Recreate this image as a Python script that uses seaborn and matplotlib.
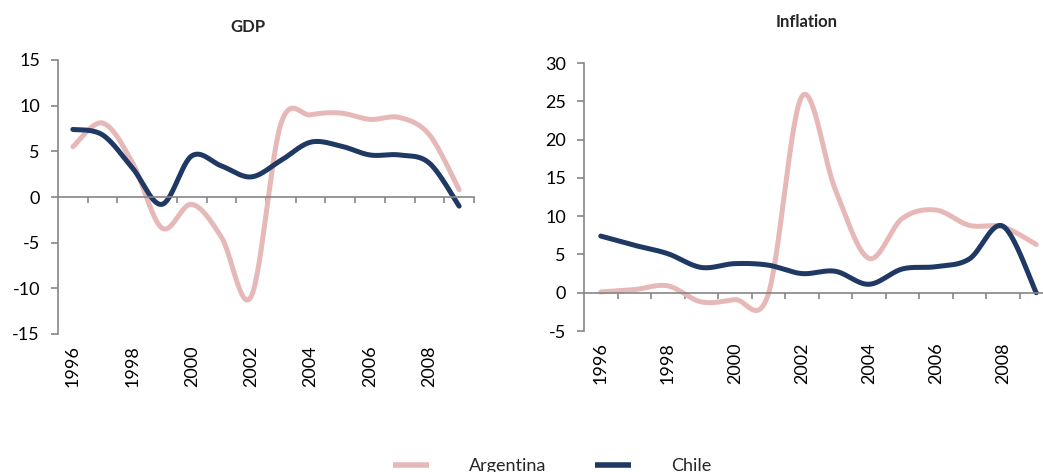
import numpy as np
import pandas as pd
import seaborn as sns
import matplotlib.pyplot as plt
from matplotlib.lines import Line2D

sns.set_theme(style="white")
plt.rcParams["font.family"] = ["Lato", "DejaVu Sans"]
plt.rcParams["axes.unicode_minus"] = False

# data
years = list(range(1996, 2010))
gdp_argentina = [5.5, 8.1, 3.8, -3.4, -0.8, -4.4, -10.9, 8.0, 9.0, 9.2, 8.5, 8.7, 6.8, 0.8]
gdp_chile = [7.4, 6.8, 3.2, -0.8, 4.5, 3.4, 2.2, 4.0, 6.0, 5.6, 4.6, 4.6, 3.7, -1.0]
infl_argentina = [0.1, 0.4, 0.9, -1.2, -0.9, -0.2, 25.6, 13.5, 4.5, 9.7, 10.8, 8.8, 8.6, 6.3]
infl_chile = [7.4, 6.2, 5.1, 3.3, 3.8, 3.6, 2.5, 2.8, 1.1, 3.1, 3.4, 4.4, 8.7, 0.0]
label_years = [1996, 1998, 2000, 2002, 2004, 2006, 2008]

ARG = "#E6B9B8"
CHL = "#1F3864"
GREY = "#868686"


def smooth(xs, ys, n=30):
    # Excel-style smoothed line (Catmull-Rom through the points)
    xs, ys = np.asarray(xs, float), np.asarray(ys, float)
    px = np.r_[xs[0], xs, xs[-1]]
    py = np.r_[ys[0], ys, ys[-1]]
    out_x, out_y = [], []
    t = np.linspace(0, 1, n, endpoint=False)
    for i in range(1, len(px) - 2):
        mx0 = (px[i + 1] - px[i - 1]) / 2
        mx1 = (px[i + 2] - px[i]) / 2
        my0 = (py[i + 1] - py[i - 1]) / 2
        my1 = (py[i + 2] - py[i]) / 2
        h00 = 2 * t**3 - 3 * t**2 + 1
        h10 = t**3 - 2 * t**2 + t
        h01 = -2 * t**3 + 3 * t**2
        h11 = t**3 - t**2
        out_x.extend(h00 * px[i] + h10 * mx0 + h01 * px[i + 1] + h11 * mx1)
        out_y.extend(h00 * py[i] + h10 * my0 + h01 * py[i + 1] + h11 * my1)
    out_x.append(xs[-1])
    out_y.append(ys[-1])
    return out_x, out_y


def panel(ax, arg, chl, ylim, yticks):
    frames = []
    for name, vals in [("Argentina", arg), ("Chile", chl)]:
        sx, sy = smooth(years, vals)
        frames.append(pd.DataFrame({"year": sx, "value": sy, "country": name}))
    df = pd.concat(frames)
    sns.lineplot(data=df, x="year", y="value", hue="country", palette=[ARG, CHL],
                 linewidth=3.6, sort=False, legend=False, ax=ax, clip_on=False)
    ax.set_xlim(years[0] - 0.5, years[-1] + 0.5)
    ax.set_ylim(*ylim)
    ax.set_yticks(yticks)
    ax.set_xlabel("")
    ax.set_ylabel("")
    for s in ["top", "right"]:
        ax.spines[s].set_visible(False)
    ax.spines["left"].set_color(GREY)
    ax.spines["left"].set_linewidth(1.2)
    ax.spines["bottom"].set_position(("data", 0))
    ax.spines["bottom"].set_color(GREY)
    ax.spines["bottom"].set_linewidth(1.2)
    ax.set_xticks([y + 0.5 for y in years])
    ax.set_xticklabels([])
    ax.tick_params(axis="x", direction="out", length=4.5, width=1.2, color=GREY, bottom=True)
    ax.tick_params(axis="y", direction="out", length=5, width=1.2, color=GREY, left=True,
                   pad=8, labelsize=13, labelcolor="black")
    sec = ax.secondary_xaxis("bottom")
    sec.set_xticks(label_years)
    sec.set_xticklabels([str(y) for y in label_years], rotation=90, va="top")
    sec.tick_params(length=0, pad=8, labelsize=13, labelcolor="black")
    sec.spines["bottom"].set_visible(False)


fig = plt.figure(figsize=(10.43, 4.72), dpi=100)
ax1 = fig.add_axes([58 / 1043, 1 - 334 / 472, 416 / 1043, 274 / 472])
ax2 = fig.add_axes([584 / 1043, 1 - 331 / 472, 469 / 1043, 268 / 472])

panel(ax1, gdp_argentina, gdp_chile, (-15, 15), range(-15, 16, 5))
panel(ax2, infl_argentina, infl_chile, (-5, 30), range(-5, 31, 5))

fig.text(248 / 1043, 1 - 27 / 472, "GDP", ha="center", va="center", fontsize=12, fontweight="bold")
fig.text(807 / 1043, 1 - 22 / 472, "Inflation", ha="center", va="center", fontsize=12, fontweight="bold")

handles = [Line2D([], [], color=ARG, lw=4, solid_capstyle="butt"),
           Line2D([], [], color=CHL, lw=4, solid_capstyle="butt")]
fig.legend(handles, ["Argentina", "Chile"], loc="center", bbox_to_anchor=(552 / 1043, 1 - 466 / 472),
           ncol=2, frameon=False, fontsize=13, handlelength=2.0, columnspacing=2.7, handletextpad=2.2)

fig.savefig("out.png", dpi=100)
